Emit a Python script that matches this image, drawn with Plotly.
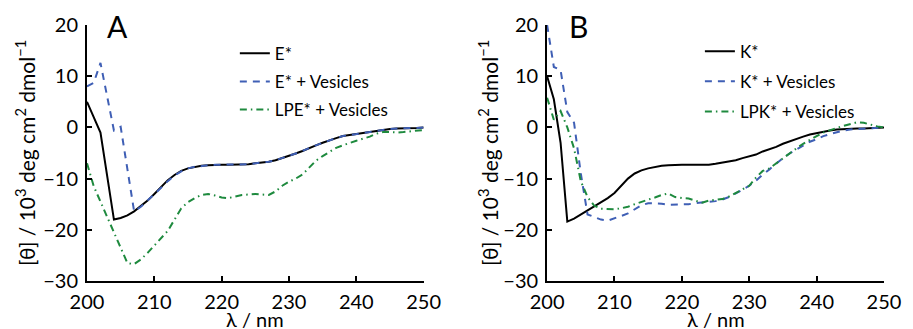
import plotly.graph_objects as go

wavelength = list(range(200, 251))

E_star = [5.0, 2.0, -1.0, -9.5, -18.0, -17.7, -17.2, -16.4, -15.4, -14.3,
          -13.0, -11.6, -10.3, -9.3, -8.5, -8.0, -7.7, -7.5, -7.4, -7.3,
          -7.3, -7.3, -7.3, -7.2, -7.2, -7.0, -6.9, -6.7, -6.4, -6.0,
          -5.6, -5.1, -4.6, -4.0, -3.5, -3.0, -2.5, -2.1, -1.7, -1.5,
          -1.3, -1.0, -0.8, -0.6, -0.4, -0.3, -0.2, -0.2, -0.1, -0.1, 0.0]

E_star_ves = [8.0, 8.7, 12.6, 6.0, -0.6, 0.1, -8.0, -16.4, -15.5, -14.3,
              -13.1, -11.8, -10.5, -9.4, -8.6, -8.0, -7.7, -7.5, -7.4, -7.3,
              -7.3, -7.3, -7.3, -7.3, -7.2, -7.0, -6.9, -6.7, -6.4, -6.0,
              -5.6, -5.1, -4.6, -4.0, -3.5, -3.0, -2.5, -2.1, -1.7, -1.5,
              -1.3, -1.0, -0.8, -0.6, -0.4, -0.3, -0.2, -0.2, -0.1, -0.1, 0.0]

LPE_star_ves = [-7.0, -11.5, -14.5, -17.5, -20.5, -23.5, -26.5, -26.7, -25.8, -24.5,
                -23.1, -21.7, -20.2, -18.0, -15.8, -14.6, -13.8, -13.2, -13.0, -13.3,
                -13.7, -13.8, -13.5, -13.2, -13.1, -13.0, -13.1, -13.2, -12.5, -11.4,
                -10.6, -10.0, -9.2, -7.8, -6.5, -5.6, -4.8, -4.0, -3.5, -3.0,
                -2.6, -2.2, -1.8, -1.2, -0.9, -0.9, -1.0, -0.9, -0.8, -0.7, -0.5]

K_star = [10.0, 5.5, -3.0, -18.4, -17.8, -17.0, -16.2, -15.4, -14.6, -13.8,
          -12.8, -11.3, -10.0, -9.0, -8.4, -8.0, -7.7, -7.5, -7.4, -7.3,
          -7.3, -7.3, -7.3, -7.4, -7.3, -7.1, -6.9, -6.7, -6.4, -6.0,
          -5.7, -5.3, -4.7, -4.3, -3.8, -3.2, -2.7, -2.2, -1.8, -1.4,
          -1.1, -0.8, -0.6, -0.4, -0.3, -0.3, -0.2, -0.2, -0.1, 0.0, 0.0]

K_star_ves = [20.0, 11.8, 11.2, 3.0, 0.9, -9.0, -17.0, -17.5, -18.0, -18.2,
              -17.8, -17.3, -16.8, -16.0, -15.2, -14.8, -14.8, -14.9, -15.1, -15.1,
              -15.1, -15.0, -14.8, -14.7, -14.6, -14.4, -14.1, -13.6, -12.9, -12.2,
              -11.4, -10.4, -9.2, -8.2, -7.1, -6.0, -5.1, -4.3, -3.5, -2.8,
              -2.3, -1.7, -1.3, -0.9, -0.6, -0.4, -0.3, -0.2, -0.1, 0.0, 0.0]

LPK_star_ves = [5.8, 1.5, 3.2, 0.0, -4.1, -10.5, -13.6, -15.3, -15.9, -16.0,
                -16.0, -15.8, -15.5, -15.0, -14.5, -14.1, -13.7, -13.2, -12.9, -13.6,
                -13.8, -13.9, -14.3, -14.7, -14.3, -14.1, -14.0, -13.5, -12.8, -12.2,
                -11.4, -9.8, -8.5, -8.0, -7.0, -6.1, -5.0, -4.1, -3.2, -2.4,
                -1.7, -1.0, -0.5, -0.1, 0.3, 0.6, 1.0, 0.9, 0.5, 0.2, 0.0]

x_ticks = [200, 210, 220, 230, 240, 250]
y_ticks = [-30, -20, -10, 0, 10, 20]

FONT = "Lato"
BLACK = "#000000"
BLUE = "#3F5FB5"
GREEN = "#1E8A3E"

fig = go.Figure()

def add(x, y, name, color, dash, xa, ya, leg, grp):
    fig.add_trace(go.Scatter(
        x=x, y=y, name=name, mode="lines",
        line=dict(color=color, width=2, dash=dash),
        xaxis=xa, yaxis=ya, legend=leg, legendgroup=grp,
    ))

add(wavelength, E_star, "E*", BLACK, "solid", "x", "y", "legend", "a1")
add(wavelength, E_star_ves, "E* + Vesicles", BLUE, "7px,6px", "x", "y", "legend", "a2")
add(wavelength, LPE_star_ves, "LPE* + Vesicles", GREEN, "7px,4px,1.5px,4px", "x", "y", "legend", "a3")
add(wavelength, K_star, "K*", BLACK, "solid", "x2", "y2", "legend2", "b1")
add(wavelength, K_star_ves, "K* + Vesicles", BLUE, "7px,6px", "x2", "y2", "legend2", "b2")
add(wavelength, LPK_star_ves, "LPK* + Vesicles", GREEN, "7px,4px,1.5px,4px", "x2", "y2", "legend2", "b3")

ax_common = dict(showline=True, linecolor="black", linewidth=2, mirror=False,
                 showgrid=False, zeroline=False, ticks="inside", ticklen=5,
                 tickwidth=1.5, tickcolor="black",
                 tickfont=dict(family=FONT, size=20, color="black"))

fig.update_layout(
    width=913, height=329, autosize=False,
    margin=dict(l=87, r=17, t=22, b=48),
    plot_bgcolor="white", paper_bgcolor="white",
    font=dict(family=FONT, color="black"),
    xaxis=dict(domain=[0, 0.4224], range=[200, 250], tickvals=x_ticks,
               anchor="y", ticklabelstandoff=2, **ax_common),
    yaxis=dict(domain=[0, 1], range=[-30, 20], tickvals=y_ticks,
               anchor="x", ticklabelstandoff=3, **ax_common),
    xaxis2=dict(domain=[0.5773, 1], range=[200, 250], tickvals=x_ticks,
                anchor="y2", ticklabelstandoff=2, **ax_common),
    yaxis2=dict(domain=[0, 1], range=[-30, 20], tickvals=y_ticks,
                anchor="x2", ticklabelstandoff=3, **ax_common),
    legend=dict(x=0.1855, y=0.958, xanchor="left", yanchor="top",
                bgcolor="rgba(0,0,0,0)", borderwidth=0, tracegroupgap=3,
                font=dict(family=FONT, size=17, color="black")),
    legend2=dict(x=0.769, y=0.966, xanchor="left", yanchor="top",
                 bgcolor="rgba(0,0,0,0)", borderwidth=0, tracegroupgap=5,
                 font=dict(family=FONT, size=17, color="black")),
    showlegend=True,
)

ytitle = "[θ] / 10<sup>3</sup> deg cm<sup>2</sup> dmol<sup>−1</sup>"
annos = [
    dict(text="A", x=0.038, y=0.997, font=dict(size=30)),
    dict(text="B", x=0.6163, y=0.997, font=dict(size=30)),
    dict(text="λ / nm", x=0.2112, y=-0.15, font=dict(size=20)),
    dict(text="λ / nm", x=0.7886, y=-0.15, font=dict(size=20)),
    dict(text=ytitle, x=-0.0779, y=0.5, textangle=-90, font=dict(size=21)),
    dict(text=ytitle, x=0.5031, y=0.5, textangle=-90, font=dict(size=21)),
]
for a in annos:
    fig.add_annotation(xref="paper", yref="paper", showarrow=False,
                       xanchor="center", yanchor="middle",
                       text=a["text"], x=a["x"], y=a["y"],
                       textangle=a.get("textangle", 0),
                       font=dict(family=FONT, color="black", **a["font"]))

fig.write_html("out.html", config={"displayModeBar": False},
               post_script="document.body.style.margin='0px';document.body.style.overflow='hidden';")
